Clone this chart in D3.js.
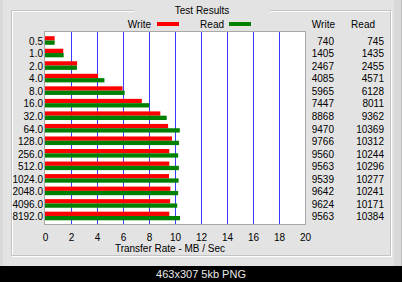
<!DOCTYPE html>
<html>
<head>
<meta charset="utf-8">
<script src="https://cdn.jsdelivr.net/npm/d3@7"></script>
<style>
	body { margin: 0; background: #000; }
	svg { display: block; }
	text { font-family: "Liberation Sans", Arial, sans-serif; font-size: 10px; }
</style>
</head>
<body>
<div id="chart"></div>
<script>
// Data
//---------
var sizes = ["0.5", "1.0", "2.0", "4.0", "8.0", "16.0", "32.0", "64.0", "128.0", "256.0", "512.0", "1024.0", "2048.0", "4096.0", "8192.0"];
var writeKB = [740, 1405, 2467, 4085, 5965, 7447, 8868, 9470, 9766, 9560, 9563, 9539, 9642, 9624, 9563];
var readKB = [745, 1435, 2455, 4571, 6128, 8011, 9362, 10369, 10312, 10244, 10296, 10277, 10241, 10171, 10384];
var ticks = [0, 2, 4, 6, 8, 10, 12, 14, 16, 18, 20];

var W = 402, H = 282;
var svg = d3.select("#chart").append("svg").attr("width", W).attr("height", H);

// Window frame
//---------
svg.append("rect").attr("width", W).attr("height", H).attr("fill", "#000");
svg.append("rect").attr("width", W).attr("height", 266).attr("fill", "#d9d9d9");
svg.append("rect").attr("x", 3).attr("width", 391).attr("height", 266).attr("fill", "#e3e3e3");
svg.append("line").attr("x1", 401.5).attr("x2", 401.5).attr("y1", 0).attr("y2", 266).attr("stroke", "#bcbcbc");

//-- Group box (etched)
svg.append("rect").attr("x", 12.5).attr("y", 11.5).attr("width", 379).attr("height", 245)
	.attr("fill", "none").attr("stroke", "#ffffff");
svg.append("rect").attr("x", 11.5).attr("y", 10.5).attr("width", 379).attr("height", 245)
	.attr("fill", "none").attr("stroke", "#c4c4c4");
svg.append("rect").attr("x", 134).attr("y", 4).attr("width", 136).attr("height", 12).attr("fill", "#e3e3e3");
svg.append("text").attr("x", 202).attr("y", 14).attr("text-anchor", "middle").text("Test Results");

// Scales
//---------
var x = d3.scaleLinear().domain([0, 20]).range([45, 305]);
var y = d3.scaleBand().domain(sizes).range([35, 223]);
var bh = 4.3;

//-- Plot area
svg.append("rect").attr("x", x(0)).attr("y", 32).attr("width", x(20) - x(0)).attr("height", 192)
	.attr("fill", "#fff");

//-- Grid
svg.append("g").selectAll("line").data(ticks.slice(1, -1)).join("line")
	.attr("x1", function(d) { return x(d) + 0.5; })
	.attr("x2", function(d) { return x(d) + 0.5; })
	.attr("y1", 32).attr("y2", 224)
	.attr("stroke", "#3a3aff").attr("stroke-width", 1);

//-- Bars
svg.append("g").selectAll("rect").data(writeKB).join("rect")
	.attr("x", x(0))
	.attr("y", function(d, i) { return y(sizes[i]) + 1.2; })
	.attr("width", function(d) { return x(d / 1000) - x(0); })
	.attr("height", bh)
	.attr("fill", "#ff0000");
svg.append("g").selectAll("rect").data(readKB).join("rect")
	.attr("x", x(0))
	.attr("y", function(d, i) { return y(sizes[i]) + 1.2 + bh; })
	.attr("width", function(d) { return x(d / 1000) - x(0); })
	.attr("height", bh)
	.attr("fill", "#008000");

//-- Plot border
svg.append("rect").attr("x", x(0) - 0.5).attr("y", 31.5).attr("width", x(20) - x(0) + 1).attr("height", 193)
	.attr("fill", "none").attr("stroke", "#a8a8a8");

// Axes
//---------
var xAxis = svg.append("g").attr("transform", "translate(0,224)")
	.call(d3.axisBottom(x).tickValues(ticks).tickSize(0).tickPadding(10).tickFormat(d3.format("d")));
xAxis.select(".domain").remove();
xAxis.selectAll("text").attr("fill", "#000").style("font-size", "10px");

var yAxis = svg.append("g").attr("transform", "translate(43,0)")
	.call(d3.axisLeft(y).tickSize(0).tickPadding(0));
yAxis.select(".domain").remove();
yAxis.selectAll("text").attr("fill", "#000").style("font-size", "10px").attr("dy", "0.35em");

svg.append("text").attr("x", 170).attr("y", 252).attr("text-anchor", "middle").text("Transfer Rate - MB / Sec");

// Legend
//---------
svg.append("text").attr("x", 151).attr("y", 27.5).attr("text-anchor", "end").text("Write");
svg.append("rect").attr("x", 157).attr("y", 22).attr("width", 22).attr("height", 4).attr("fill", "#ff0000");
svg.append("text").attr("x", 224).attr("y", 27.5).attr("text-anchor", "end").text("Read");
svg.append("rect").attr("x", 229).attr("y", 22).attr("width", 22).attr("height", 4).attr("fill", "#008000");

// Value columns
//---------
svg.append("text").attr("x", 335).attr("y", 27.5).attr("text-anchor", "end").text("Write");
svg.append("text").attr("x", 375).attr("y", 27.5).attr("text-anchor", "end").text("Read");
svg.append("g").selectAll("text").data(writeKB).join("text")
	.attr("x", 334).attr("y", function(d, i) { return y(sizes[i]) + y.bandwidth() / 2; })
	.attr("dy", "0.35em").attr("text-anchor", "end").text(function(d) { return d; });
svg.append("g").selectAll("text").data(readKB).join("text")
	.attr("x", 384).attr("y", function(d, i) { return y(sizes[i]) + y.bandwidth() / 2; })
	.attr("dy", "0.35em").attr("text-anchor", "end").text(function(d) { return d; });

// Caption strip
//---------
svg.append("text").attr("x", 201).attr("y", 278).attr("text-anchor", "middle")
	.style("font-size", "11px").attr("fill", "#e8e8e8").text("463x307 5kb PNG");
</script>
</body>
</html>
